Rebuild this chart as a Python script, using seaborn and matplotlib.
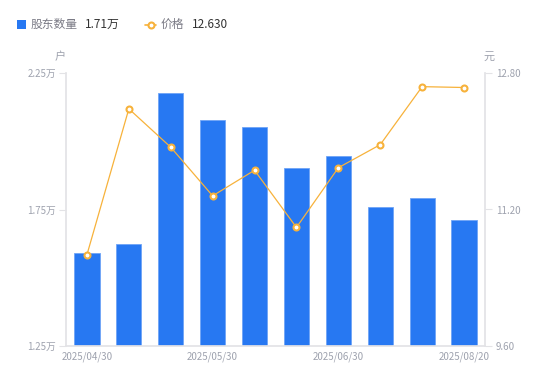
import matplotlib
matplotlib.use("Agg")
import matplotlib.pyplot as plt
from matplotlib.lines import Line2D
from matplotlib.patches import Rectangle
import seaborn as sns
import pandas as pd
import numpy as np

dates = ["2025/04/30", "2025/05/10", "2025/05/20", "2025/05/30", "2025/06/10",
         "2025/06/20", "2025/06/30", "2025/07/20", "2025/07/31", "2025/08/20"]
holders_wan = [1.591, 1.625, 2.177, 2.077, 2.051, 1.903, 1.947, 1.760, 1.793, 1.710]
price = [10.67, 12.38, 11.93, 11.36, 11.66, 10.99, 11.69, 11.96, 12.64, 12.63]
shown_ticks = ["2025/04/30", "2025/05/30", "2025/06/30", "2025/08/20"]
left_ticks = [1.25, 1.75, 2.25]
right_ticks = [9.60, 11.20, 12.80]

sns.set_theme(style="white")
plt.rcParams['font.family'] = ['Noto Sans CJK SC', 'DejaVu Sans']

BLUE = "#2778f2"
ORANGE = "#f7b23b"
TICKC = "#9ea2ae"
SPINEC = "#e3e3e6"

df = pd.DataFrame({"date": dates, "holders": holders_wan, "price": price})

fig = plt.figure(figsize=(5.5, 3.81), dpi=100)
ax = fig.add_axes([66/550, 35/381, 419/550, 273/381])

sns.barplot(data=df, x="date", y="holders", ax=ax, color=BLUE, width=0.6,
            saturation=1, edgecolor="#6fa4f6", linewidth=0.6)
ax.set_ylim(1.25, 2.25)
ax.set_xlim(-0.5, len(dates) - 0.5)
ax.set_yticks(left_ticks)
ax.set_yticklabels([f"{v:.2f}万" for v in left_ticks])
idx = [dates.index(d) for d in shown_ticks]
ax.set_xticks(idx)
ax.set_xticklabels(shown_ticks)
ax.set_xlabel("")
ax.set_ylabel("")

ax2 = ax.twinx()
sns.lineplot(data=df, x="date", y="price", ax=ax2, color=ORANGE, linewidth=0.9,
             marker="o", markersize=4.3, markerfacecolor="white",
             markeredgecolor=ORANGE, markeredgewidth=1.5)
ax2.set_ylim(9.60, 12.80)
ax2.set_xlim(-0.5, len(dates) - 0.5)
ax2.set_yticks(right_ticks)
ax2.set_yticklabels([f"{v:.2f}" for v in right_ticks])
ax2.set_ylabel("")
ax2.set_xlabel("")

for a in (ax, ax2):
    for s in a.spines.values():
        s.set_visible(False)
    a.grid(False)
    a.set_facecolor("none")

ax.spines["left"].set_visible(True)
ax.spines["left"].set_color(SPINEC)
ax.spines["bottom"].set_visible(True)
ax.spines["bottom"].set_color(SPINEC)
ax2.spines["right"].set_visible(True)
ax2.spines["right"].set_color(SPINEC)

ax.tick_params(axis="y", which="both", left=True, length=5, width=0.8, color=SPINEC,
               labelsize=7, labelcolor=TICKC, pad=2)
ax.tick_params(axis="x", bottom=False, length=0, labelsize=7, labelcolor=TICKC, pad=4)
ax2.tick_params(axis="y", right=True, length=5, width=0.8, color=SPINEC,
                labelsize=7, labelcolor=TICKC, pad=3)

# unit labels
fig.text(60/550, 1 - 57/381, "户", ha="center", va="center", fontsize=8, color=TICKC)
fig.text(489/550, 1 - 57/381, "元", ha="center", va="center", fontsize=8, color=TICKC)

# legend
fig.patches.append(Rectangle((17/550, 1 - 29/381), 9/550, 9/381, transform=fig.transFigure,
                             facecolor=BLUE, edgecolor="none"))
fig.text(31/550, 1 - 24.5/381, "股东数量", ha="left", va="center", fontsize=8.5, color="#7a7a85")
fig.text(85/550, 1 - 24.5/381, "1.71万", ha="left", va="center", fontsize=8.5, color="#333333")
fig.lines.append(Line2D([145/550, 156/550], [1 - 24.5/381] * 2, transform=fig.transFigure,
                        color=ORANGE, linewidth=1.2))
fig.lines.append(Line2D([150.5/550], [1 - 24.5/381], transform=fig.transFigure,
                        color=ORANGE, marker="o", markersize=4.3, markerfacecolor="white",
                        markeredgecolor=ORANGE, markeredgewidth=1.5, linestyle="none"))
fig.text(161/550, 1 - 24.5/381, "价格", ha="left", va="center", fontsize=8.5, color="#7a7a85")
fig.text(192/550, 1 - 24.5/381, "12.630", ha="left", va="center", fontsize=8.5, color="#333333")

fig.savefig("out.png", dpi=100)
